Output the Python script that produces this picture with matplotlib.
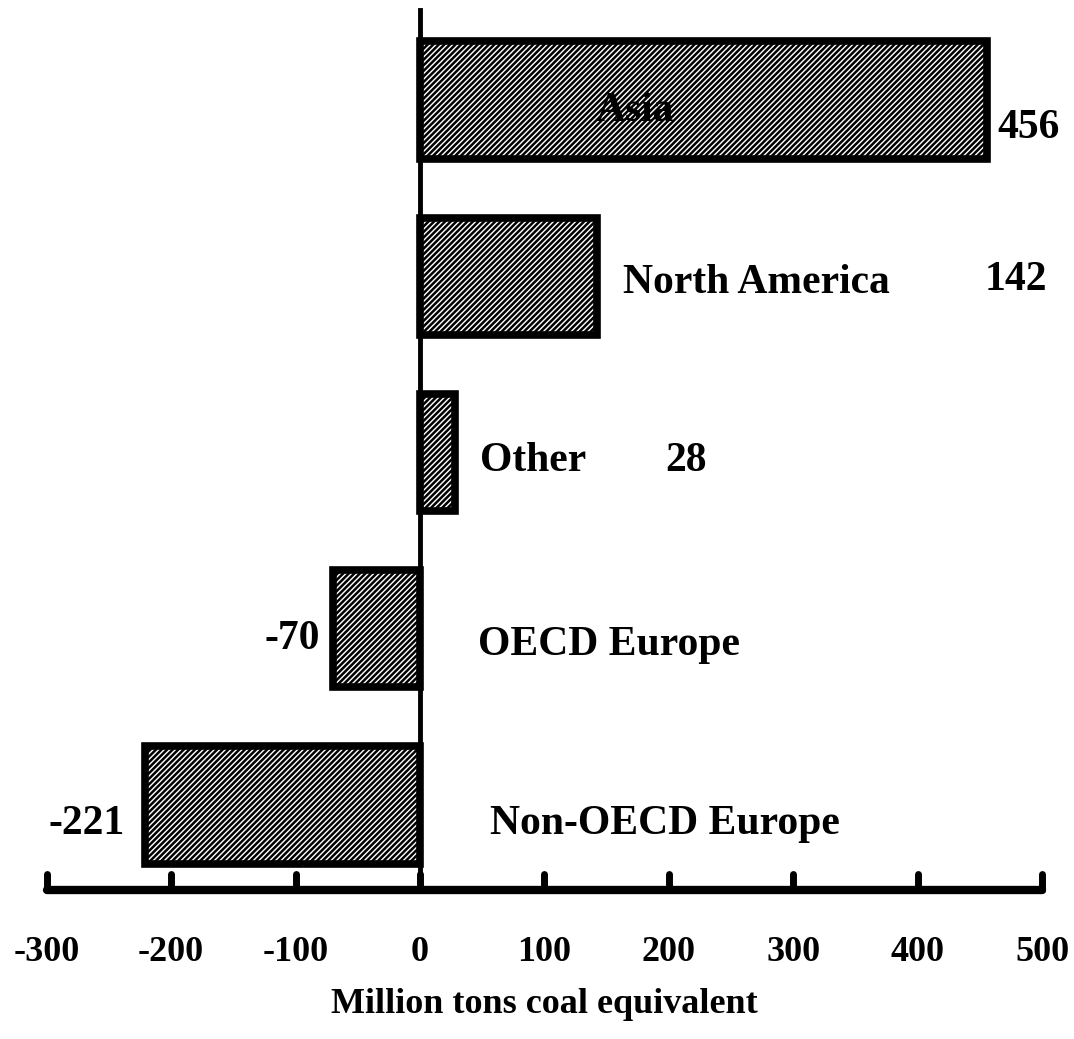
import matplotlib.pyplot as plt
import numpy as np

# Net change by region, million tons coal equivalent
regions = ["Asia", "North America", "Other", "OECD Europe", "Non-OECD Europe"]
values = [456, 142, 28, -70, -221]
tick_values = [-300, -200, -100, 0, 100, 200, 300, 400, 500]

plt.rcParams['font.family'] = ['Liberation Serif', 'DejaVu Serif']
plt.rcParams['font.weight'] = 'bold'
plt.rcParams['hatch.linewidth'] = 1.8

fig = plt.figure(figsize=(10.74, 10.39), dpi=100)
ax = fig.add_axes([0, 0, 1, 1])
ax.set_xlim(-337.6, 525.7)
ax.set_ylim(5.328, -0.567)
ax.axis('off')

pos = np.arange(len(regions))
ax.barh(pos, values, height=0.665, color='white', edgecolor='black',
        linewidth=5.5, hatch='//////', zorder=3)

# baseline with rounded tick bumps
axis_y = 4.48
ax.plot([tick_values[0], tick_values[-1]], [axis_y, axis_y], color='black',
        lw=6, solid_capstyle='round', zorder=4)
ax.vlines(tick_values, axis_y - 0.09, axis_y, color='black', lw=5,
          capstyle='round', zorder=4)
ax.plot([0, 0], [-0.51, axis_y], color='black', lw=3.5, zorder=5)

for t in tick_values:
    ax.text(t, 4.84, str(t), ha='center', va='center', fontsize=26,
            fontweight='bold')
ax.text(100, 5.13, "Million tons coal equivalent", ha='center', va='center',
        fontsize=26, fontweight='bold')

# region names and values
fs = 30
ax.text(173, 0.06, regions[0], ha='center', va='center', fontsize=fs, zorder=6)
ax.text(values[0] + 8, 0.16, str(values[0]), ha='left', va='center', fontsize=fs)

ax.text(163, 1.04, regions[1], ha='left', va='center', fontsize=fs)
ax.text(values[1] + 312, 1.02, str(values[1]), ha='left', va='center', fontsize=fs)

ax.text(48, 2.05, regions[2], ha='left', va='center', fontsize=fs)
ax.text(values[2] + 169, 2.05, str(values[2]), ha='left', va='center', fontsize=fs)

ax.text(values[3] - 10, 3.06, str(values[3]), ha='right', va='center', fontsize=fs)
ax.text(47, 3.09, regions[3], ha='left', va='center', fontsize=fs)

ax.text(values[4] - 16, 4.11, str(values[4]), ha='right', va='center', fontsize=fs)
ax.text(56, 4.11, regions[4], ha='left', va='center', fontsize=fs)

plt.savefig('out.png', dpi=100)
